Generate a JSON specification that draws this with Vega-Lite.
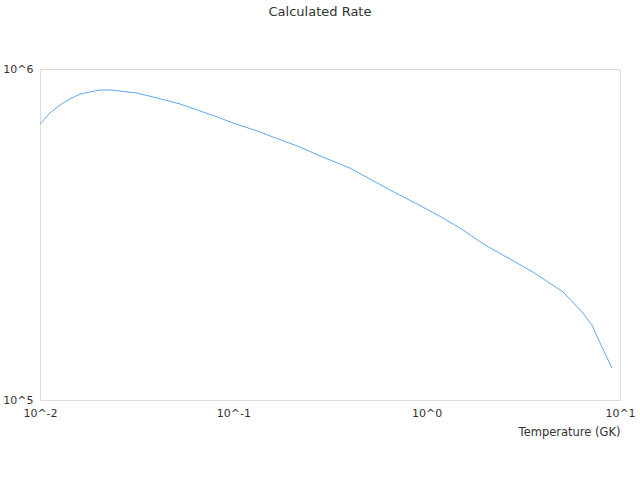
{
  "$schema": "https://vega.github.io/schema/vega-lite/v6.json",
  "description": "Calculated rate against temperature, log-log",
  "autosize": "none",
  "padding": {"left": 40, "top": 69, "right": 20, "bottom": 80},
  "width": 580,
  "height": 331,
  "title": {
    "text": "Calculated Rate",
    "font": "DejaVu Sans",
    "fontSize": 13,
    "fontWeight": "normal",
    "color": "#333333",
    "offset": 44,
    "dx": -10
  },
  "data": {
    "values": [
      {"T": 0.01, "rate": 682000},
      {"T": 0.01126, "rate": 736600},
      {"T": 0.01269, "rate": 778500},
      {"T": 0.01429, "rate": 811700},
      {"T": 0.0161, "rate": 840000},
      {"T": 0.02043, "rate": 864000},
      {"T": 0.023, "rate": 864000},
      {"T": 0.03176, "rate": 846000},
      {"T": 0.04028, "rate": 817600},
      {"T": 0.05298, "rate": 784000},
      {"T": 0.06967, "rate": 741700},
      {"T": 0.0822, "rate": 717000},
      {"T": 0.0996, "rate": 686800},
      {"T": 0.1326, "rate": 650000},
      {"T": 0.1604, "rate": 623000},
      {"T": 0.2213, "rate": 581000},
      {"T": 0.2807, "rate": 546000},
      {"T": 0.4013, "rate": 502000},
      {"T": 0.6461, "rate": 431000},
      {"T": 0.8913, "rate": 391000},
      {"T": 1.215, "rate": 354700},
      {"T": 1.542, "rate": 326300},
      {"T": 2.003, "rate": 293900},
      {"T": 2.698, "rate": 266700},
      {"T": 3.548, "rate": 243500},
      {"T": 5.073, "rate": 212000},
      {"T": 6.359, "rate": 184500},
      {"T": 7.165, "rate": 168500},
      {"T": 7.88, "rate": 148700},
      {"T": 9.09, "rate": 124900}
    ]
  },
  "mark": {"type": "line", "color": "#5fa8ef", "strokeWidth": 1, "clip": true},
  "encoding": {
    "x": {
      "field": "T",
      "type": "quantitative",
      "scale": {"type": "log", "domain": [0.01, 10], "nice": false},
      "axis": {
        "title": "Temperature (GK)",
        "titleAnchor": "end",
        "titleFont": "DejaVu Sans",
        "titleFontSize": 11.5,
        "titleFontWeight": "normal",
        "titleColor": "#333333",
        "titlePadding": 8,
        "values": [0.01, 0.1, 1, 10],
        "labelExpr": "'10^' + round(log(datum.value) / LN10)",
        "labelFont": "DejaVu Sans",
        "labelFontSize": 11,
        "labelColor": "#333333",
        "labelPadding": 7,
        "labelFlush": false,
        "ticks": false,
        "domain": false,
        "grid": false
      }
    },
    "y": {
      "field": "rate",
      "type": "quantitative",
      "scale": {"type": "log", "domain": [100000, 1000000], "nice": false},
      "axis": {
        "title": null,
        "values": [100000, 1000000],
        "labelExpr": "'10^' + round(log(datum.value) / LN10)",
        "labelFont": "DejaVu Sans",
        "labelFontSize": 11,
        "labelColor": "#333333",
        "labelPadding": 7,
        "labelFlush": false,
        "ticks": false,
        "domain": false,
        "grid": false
      }
    }
  },
  "config": {
    "view": {"stroke": "#dddddd", "strokeWidth": 1}
  }
}
